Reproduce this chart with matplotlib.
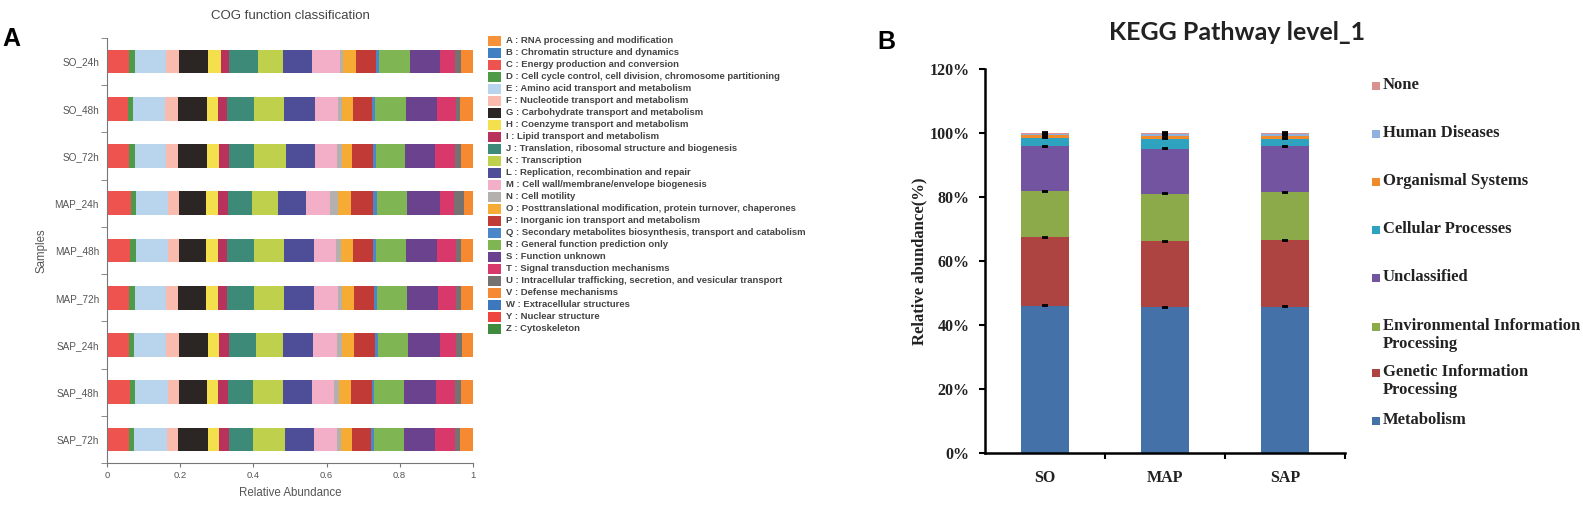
import matplotlib.pyplot as plt
from matplotlib.patches import Rectangle
from matplotlib.ticker import FuncFormatter
import numpy as np

plt.rcParams['font.family'] = ['Liberation Sans', 'DejaVu Sans']

W, H = 1583, 512

# ---------------- panel A: COG classes (share of each sample) ----------------
samples = ['SO_24h', 'SO_48h', 'SO_72h', 'MAP_24h', 'MAP_48h', 'MAP_72h',
           'SAP_24h', 'SAP_48h', 'SAP_72h']

cog_A = [0, 0, 0, 0, 0, 0, 0, 0, 0]
cog_B = [0, 0, 0, 0, 0, 0, 0, 0, 0]
cog_C = [.060, .056, .060, .065, .062, .060, .059, .062, .060]
cog_D = [.016, .015, .016, .013, .016, .016, .015, .015, .014]
cog_E = [.085, .087, .085, .089, .087, .084, .086, .088, .089]
cog_F = [.035, .035, .032, .030, .031, .034, .035, .030, .030]
cog_G = [.080, .079, .081, .073, .074, .076, .080, .077, .082]
cog_H = [.034, .030, .032, .034, .032, .032, .031, .032, .032]
cog_I = [.024, .025, .027, .025, .026, .026, .027, .027, .025]
cog_J = [.078, .074, .068, .068, .073, .074, .073, .069, .068]
cog_K = [.070, .083, .088, .069, .083, .082, .074, .080, .087]
cog_L = [.078, .085, .079, .078, .082, .083, .082, .080, .080]
cog_M = [.077, .063, .060, .065, .060, .063, .067, .061, .061]
cog_N = [.007, .009, .013, .021, .013, .011, .012, .014, .012]
cog_O = [.037, .032, .030, .037, .033, .035, .035, .032, .029]
cog_P = [.054, .051, .055, .059, .054, .055, .057, .057, .053]
cog_Q = [.008, .008, .008, .013, .008, .006, .007, .007, .008]
cog_R = [.085, .086, .082, .080, .083, .082, .082, .082, .083]
cog_S = [.083, .085, .081, .092, .086, .087, .089, .086, .084]
cog_T = [.041, .050, .055, .039, .050, .048, .042, .052, .055]
cog_U = [.016, .012, .015, .026, .014, .014, .017, .017, .013]
cog_V = [.032, .035, .033, .024, .033, .032, .030, .032, .035]
cog_W = [0, 0, 0, 0, 0, 0, 0, 0, 0]
cog_Y = [0, 0, 0, 0, 0, 0, 0, 0, 0]
cog_Z = [0, 0, 0, 0, 0, 0, 0, 0, 0]

cog_values = [cog_A, cog_B, cog_C, cog_D, cog_E, cog_F, cog_G, cog_H, cog_I,
              cog_J, cog_K, cog_L, cog_M, cog_N, cog_O, cog_P, cog_Q, cog_R,
              cog_S, cog_T, cog_U, cog_V, cog_W, cog_Y, cog_Z]

cog_labels = [
    'A : RNA processing and modification',
    'B : Chromatin structure and dynamics',
    'C : Energy production and conversion',
    'D : Cell cycle control, cell division, chromosome partitioning',
    'E : Amino acid transport and metabolism',
    'F : Nucleotide transport and metabolism',
    'G : Carbohydrate transport and metabolism',
    'H : Coenzyme transport and metabolism',
    'I : Lipid transport and metabolism',
    'J : Translation, ribosomal structure and biogenesis',
    'K : Transcription',
    'L : Replication, recombination and repair',
    'M : Cell wall/membrane/envelope biogenesis',
    'N : Cell motility',
    'O : Posttranslational modification, protein turnover, chaperones',
    'P : Inorganic ion transport and metabolism',
    'Q : Secondary metabolites biosynthesis, transport and catabolism',
    'R : General function prediction only',
    'S : Function unknown',
    'T : Signal transduction mechanisms',
    'U : Intracellular trafficking, secretion, and vesicular transport',
    'V : Defense mechanisms',
    'W : Extracellular structures',
    'Y : Nuclear structure',
    'Z : Cytoskeleton',
]

cog_colors = ['#F7923A', '#3F7FC2', '#EE5350', '#4E9A48', '#B9D5EE', '#F9BBAE',
              '#2B2523', '#F4E04D', '#B8325B', '#3E8A78', '#BFD04D', '#4E4E98',
              '#F4AFC8', '#B3B0AE', '#F6AB35', '#C23A36', '#4A86C8', '#7FB552',
              '#6B428D', '#D9396A', '#777272', '#F58A32', '#3D78BE', '#EE4540',
              '#3F8C3E']

# ---------------- panel B: KEGG level 1 (%) ----------------
kegg_groups = ['SO', 'MAP', 'SAP']
metabolism = [46.1, 45.5, 45.8]
genetic = [21.3, 20.6, 20.6]
environmental = [14.3, 14.9, 15.1]
unclassified = [14.1, 14.1, 14.3]
cellular = [2.6, 3.1, 2.4]
organismal = [0.8, 0.9, 0.9]
human = [0.5, 0.5, 0.5]
none_cls = [0.3, 0.4, 0.4]
kegg_err = [0.15, 0.15, 0.15]

kegg_values = [metabolism, genetic, environmental, unclassified, cellular,
               organismal, human, none_cls]
kegg_labels = ['Metabolism', 'Genetic Information\nProcessing',
               'Environmental Information\nProcessing', 'Unclassified',
               'Cellular Processes', 'Organismal Systems', 'Human Diseases', 'None']
kegg_colors = ['#4472A8', '#AE4441', '#8DAA4A', '#7254A0', '#2EA3C0',
               '#F08A2A', '#8FB1DE', '#D9908F']

fig = plt.figure(figsize=(W / 100, H / 100), dpi=100)

# ===== panel A =====
axA = fig.add_axes([107.3 / W, 1 - 463 / H, 365.4 / W, 425 / H])
y = np.arange(len(samples))
left = np.zeros(len(samples))
for vals, col in zip(cog_values, cog_colors):
    axA.barh(y, vals, left=left, height=0.5, color=col, linewidth=0)
    left += np.array(vals)

axA.set_xlim(0, 1)
axA.set_ylim(len(samples) - 0.5, -0.5)
axA.set_yticks(y, samples)
axA.set_yticks(np.arange(-0.5, len(samples)), minor=True)
axA.tick_params(axis='y', which='major', length=0, pad=6, labelsize=7.2, labelcolor='#555')
axA.tick_params(axis='y', which='minor', length=4, color='#777')
axA.set_xticks([0, 0.2, 0.4, 0.6, 0.8, 1], ['0', '0.2', '0.4', '0.6', '0.8', '1'])
axA.tick_params(axis='x', length=3, color='#777', labelsize=6.8, labelcolor='#555', pad=3)
for s in ['top', 'right']:
    axA.spines[s].set_visible(False)
for s in ['left', 'bottom']:
    axA.spines[s].set_color('#777')
    axA.spines[s].set_linewidth(0.8)
axA.set_xlabel('Relative Abundance', fontsize=8.3, color='#555', labelpad=5)
axA.set_ylabel('Samples', fontsize=8.3, color='#555')
axA.yaxis.set_label_coords(-0.165, 0.5)

fig.text(290 / W, 1 - 19 / H, 'COG function classification', ha='center',
         va='baseline', fontsize=9.5, color='#444')
fig.text(2 / W, 1 - 46 / H, 'A', fontsize=18, fontweight='bold', va='baseline')

# legend of panel A
for i, (lab, col) in enumerate(zip(cog_labels, cog_colors)):
    yc = 40.7 + 12 * i
    fig.add_artist(Rectangle((488.3 / W, 1 - (yc + 5) / H), 12.7 / W, 10 / H,
                             transform=fig.transFigure, color=col, lw=0))
    fig.text(505.7 / W, 1 - yc / H, lab, va='center', fontsize=6.8,
             fontweight='bold', color='#444')

# ===== panel B =====
serif = ['Liberation Serif', 'DejaVu Serif']
axB = fig.add_axes([985 / W, 1 - 453.3 / H, 360 / W, 384.6 / H])
x = np.arange(len(kegg_groups))
bottom = np.zeros(len(kegg_groups))
for vals, col in zip(kegg_values, kegg_colors):
    axB.bar(x, vals, bottom=bottom, width=0.4, color=col, linewidth=0,
            yerr=kegg_err, capsize=2.5,
            error_kw=dict(elinewidth=0.8, capthick=1.3, ecolor='black'))
    bottom += np.array(vals)

axB.set_xlim(-0.5, 2.5)
axB.set_ylim(0, 120)
axB.set_yticks(np.arange(0, 121, 20))
axB.yaxis.set_major_formatter(FuncFormatter(lambda v, p: '%d%%' % v))
axB.set_xticks(x, kegg_groups)
axB.set_xticks([0.5, 1.5, 2.5], minor=True)
axB.tick_params(axis='x', which='major', length=0, pad=12)
axB.tick_params(axis='x', which='minor', length=4, width=1.5, direction='out')
axB.tick_params(axis='y', length=4, width=1.5, pad=7)
for lab in axB.get_xticklabels() + axB.get_yticklabels():
    lab.set_family(serif)
    lab.set_fontweight('bold')
    lab.set_fontsize(11.5)
    lab.set_color('#222')
for s in ['top', 'right']:
    axB.spines[s].set_visible(False)
for s in ['left', 'bottom']:
    axB.spines[s].set_linewidth(1.8)
axB.set_ylabel('Relative abundance(%)', family=serif, fontweight='bold',
               fontsize=12, color='#222')
axB.yaxis.set_label_coords(-0.16, 0.5)

fig.text(1237 / W, 1 - 40 / H, 'KEGG Pathway level_1', ha='center', va='baseline',
         fontsize=18, fontweight='bold', family=['Lato', 'DejaVu Sans'], color='#222')
fig.text(877 / W, 1 - 49 / H, 'B', fontsize=18, fontweight='bold', va='baseline')

# legend of panel B (top to bottom)
leg_y = [86, 134, 182, 230, 278, 327, 373, 421]
for yc, lab, col in zip(leg_y, kegg_labels[::-1], kegg_colors[::-1]):
    fig.add_artist(Rectangle((1372 / W, 1 - (yc + 4) / H), 8 / W, 8 / H,
                             transform=fig.transFigure, color=col, lw=0))
    fig.text(1383 / W, 1 - (yc - 9) / H, lab, va='top', family=serif,
             fontweight='bold', fontsize=12, color='#222', linespacing=1.2)

fig.savefig('out.png', dpi=100)
